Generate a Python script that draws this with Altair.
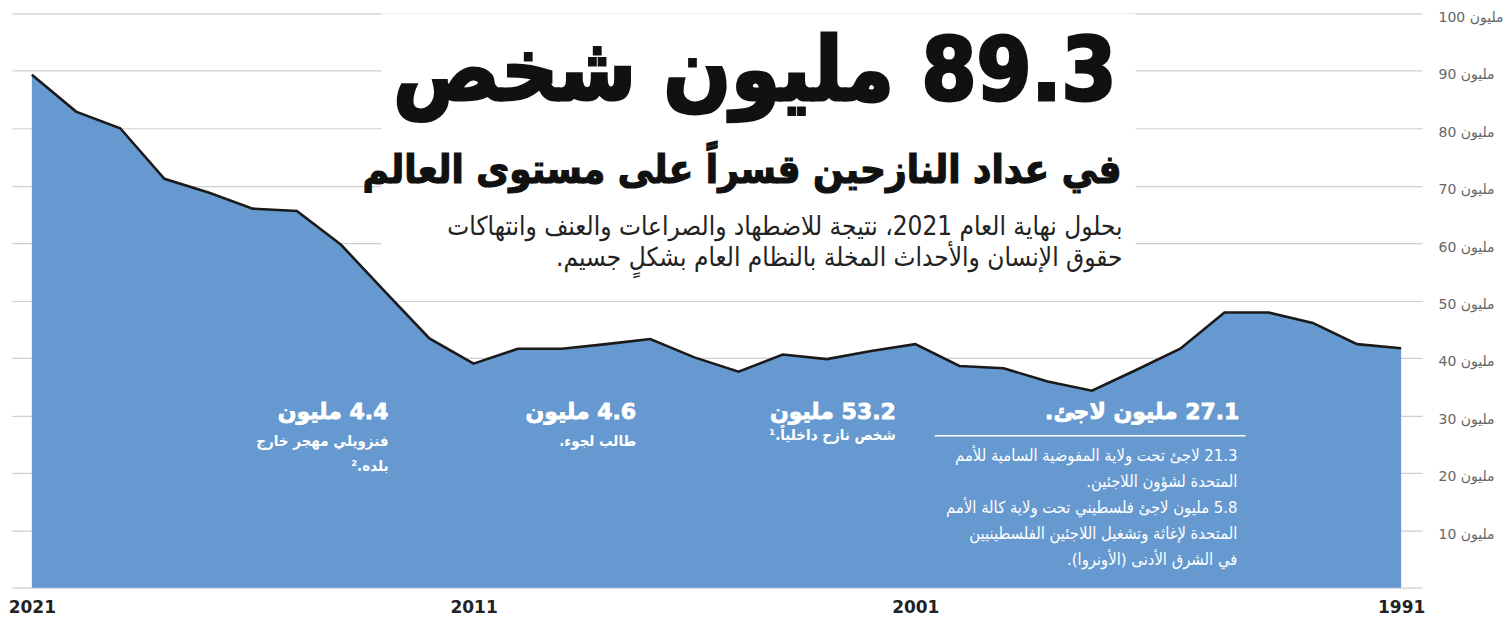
import altair as alt
import pandas as pd

# ---------------- data ----------------
YEARS = [2021, 2020, 2019, 2018, 2017, 2016, 2015, 2014, 2013, 2012,
         2011, 2010, 2009, 2008, 2007, 2006, 2005, 2004, 2003, 2002,
         2001, 2000, 1999, 1998, 1997, 1996, 1995, 1994, 1993, 1992,
         1991, 1990]
DISPLACED_M = [89.3, 82.9, 80.0, 71.2, 68.8, 66.0, 65.6, 59.7, 51.5, 43.4,
               39.0, 41.6, 41.6, 42.4, 43.3, 40.1, 37.6, 40.6, 39.8, 41.2,
               42.4, 38.6, 38.2, 35.9, 34.3, 37.9, 41.6, 47.9, 47.9, 46.1,
               42.4, 41.7]
X_TICK_VALUES = [2021, 2011, 2001, 1990]
X_TICK_LABELS = ["2021", "2011", "2001", "1991"]
Y_TICK_VALUES = [0, 10, 20, 30, 40, 50, 60, 70, 80, 90, 100]
Y_UNIT = "مليون"

RLM = "\u200F"
LRM = "\u200E"
TITLE = "89.3 مليون شخص"
SUBTITLE = "في عداد النازحين قسراً على مستوى العالم"
BODY = ["بحلول نهاية العام 2021، نتيجة للاضطهاد والصراعات والعنف وانتهاكات",
        "حقوق الإنسان والأحداث المخلة بالنظام العام بشكلٍ جسيم."]
ANN_VEN = ["4.4 مليون", "فنزويلي مهجر خارج", "بلده.²"]
ANN_ASY = ["4.6 مليون", "طالب لجوء."]
ANN_IDP = ["53.2 مليون", "شخص نازح داخلياً.¹"]
ANN_REF_HEAD = "27.1 مليون لاجئ."
ANN_REF_BODY = ["21.3 لاجئ تحت ولاية المفوضية السامية للأمم",
                "المتحدة لشؤون اللاجئين.",
                "5.8 مليون لاجئ فلسطيني تحت ولاية كالة الأمم",
                "المتحدة لإغاثة وتشغيل اللاجئين الفلسطينيين",
                "في الشرق الأدنى (الأونروا)."]

df = pd.DataFrame({"year": YEARS, "value": DISPLACED_M})

FONT = "DejaVu Sans"
FONT_C = "DejaVu Sans Condensed"
W, H = 1412, 575

label_map = " : ".join(
    f"datum.value == {v} ? '{l}'" for v, l in zip(X_TICK_VALUES, X_TICK_LABELS)
) + " : ''"

x_enc = alt.X(
    "year:Q",
    scale=alt.Scale(domain=[2021.45, 1989.525], nice=False, zero=False),
    axis=alt.Axis(values=X_TICK_VALUES, labelExpr=label_map, title=None,
                  grid=False, domain=False, ticks=False, labelPadding=12,
                  labelFont=FONT, labelFontSize=17, labelFontWeight="bold",
                  labelColor="#222222"),
)
# number first, shown on the left of the unit
y_label_expr = f"datum.value == 0 ? '' : '{LRM}' + datum.value + ' {Y_UNIT}'"
y_enc = alt.Y(
    "value:Q",
    scale=alt.Scale(domain=[0, 100], nice=False),
    axis=alt.Axis(orient="right", values=Y_TICK_VALUES,
                  labelExpr=y_label_expr,
                  title=None, grid=True, gridColor="#cdcedb", gridWidth=1.2,
                  domain=False, ticks=False, labelPadding=16,
                  labelFont=FONT, labelFontSize=14, labelColor="#666666",
                  labelOffset=4),
)

base = alt.Chart(df)
area = base.mark_area(
    color="#6699cf", opacity=1, interpolate="linear",
    line=alt.OverlayMarkDef(color="#1a1a1a", strokeWidth=2.6),
).encode(x=x_enc, y=y_enc)


def text_layer(txt, x, y, size, weight="normal", color="#111111", font=FONT,
               stroke_w=0.0):
    kw = {}
    if stroke_w > 0:
        kw = {"stroke": color, "strokeWidth": stroke_w}
    return alt.Chart(pd.DataFrame({"t": [RLM + txt + RLM]})).mark_text(
        align="right", baseline="alphabetic", font=font, fontSize=size,
        fontWeight=weight, color=color, **kw
    ).encode(text="t:N", x=alt.value(x), y=alt.value(y))


# white panel behind the heading block (hides gridlines there)
mask = alt.Chart(pd.DataFrame({"k": [0]})).mark_rect(color="white").encode(
    x=alt.value(370), x2=alt.value(1125), y=alt.value(0), y2=alt.value(270)
)

layers = [mask, area]
layers.append(text_layer(TITLE, 1106, 87, 88, "bold", "#111111", FONT_C, 3.0))
layers.append(text_layer(SUBTITLE, 1111, 170, 40, "bold", "#111111", FONT_C, 1.2))
layers.append(text_layer(BODY[0], 1112, 222, 26, "normal", "#222222", FONT_C))
layers.append(text_layer(BODY[1], 1112, 253, 26, "normal", "#222222", FONT_C))

WHITE = "#ffffff"
# Venezuelans
layers.append(text_layer(ANN_VEN[0], 377, 406, 22, "bold", WHITE, FONT, 0.8))
layers.append(text_layer(ANN_VEN[1], 377, 433, 15, "bold", WHITE, FONT_C))
layers.append(text_layer(ANN_VEN[2], 377, 458, 15, "bold", WHITE, FONT_C))
# asylum seekers
layers.append(text_layer(ANN_ASY[0], 625, 406, 22, "bold", WHITE, FONT, 0.8))
layers.append(text_layer(ANN_ASY[1], 625, 433, 15, "bold", WHITE, FONT_C))
# IDPs
layers.append(text_layer(ANN_IDP[0], 885, 406, 22, "bold", WHITE, FONT, 0.8))
layers.append(text_layer(ANN_IDP[1], 885, 427, 15, "bold", WHITE, FONT_C))
# refugees
layers.append(text_layer(ANN_REF_HEAD, 1229, 406, 22, "bold", WHITE, FONT, 0.8))
rule = alt.Chart(pd.DataFrame({"k": [0]})).mark_rule(
    color=WHITE, strokeWidth=1.5
).encode(x=alt.value(924), x2=alt.value(1235), y=alt.value(423))
layers.append(rule)
for i, line in enumerate(ANN_REF_BODY):
    layers.append(text_layer(line, 1227, 448 + i * 26, 16.5, "normal", WHITE, FONT_C))

chart = alt.layer(*layers).properties(
    width=W, height=H,
    padding={"left": 0, "top": 2, "right": 0, "bottom": 0},
).configure_view(stroke=None)

chart.save("out.html", embed_options={"renderer": "svg", "actions": False})
